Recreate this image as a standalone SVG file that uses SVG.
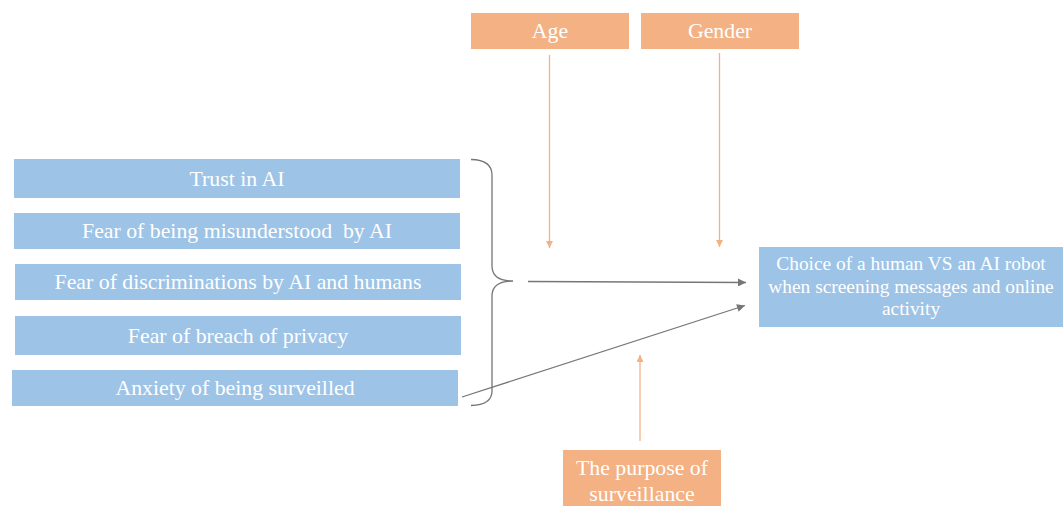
<svg xmlns="http://www.w3.org/2000/svg" width="1064" height="506" viewBox="0 0 1064 506">
<style>
.b{fill:#9DC3E6}
.o{fill:#F4B183}
.t{fill:#fff;font-family:"Liberation Serif","Times New Roman",serif;font-size:21.8px;text-anchor:middle}
.s{font-size:19.4px}
.ga{stroke:#767676;stroke-width:1.3;fill:none}
.oa{stroke:#F4B183;stroke-width:1.3;fill:none}
</style>
<defs>
<marker id="mg" viewBox="0 0 10 10" refX="10" refY="5" markerWidth="10" markerHeight="8" markerUnits="userSpaceOnUse" orient="auto"><path d="M0,0L10,5L0,10z" fill="#767676"/></marker>
<marker id="mo" viewBox="0 0 10 10" refX="10" refY="5" markerWidth="9" markerHeight="7" markerUnits="userSpaceOnUse" orient="auto"><path d="M0,0L10,5L0,10z" fill="#F4B183"/></marker>
</defs>
<g id="trust"><rect class="b" x="14" y="159" width="446" height="39"/><text class="t" x="237" y="186">Trust in AI</text></g>
<g id="misunderstood"><rect class="b" x="14" y="213" width="446" height="36"/><text class="t" x="237" y="238" xml:space="preserve">Fear of being misunderstood  by AI</text></g>
<g id="discrimination"><rect class="b" x="15" y="264" width="446" height="36"/><text class="t" x="238" y="289">Fear of discriminations by AI and humans</text></g>
<g id="privacy"><rect class="b" x="15" y="316" width="446" height="39"/><text class="t" x="238" y="343">Fear of breach of privacy</text></g>
<g id="anxiety"><rect class="b" x="12" y="370" width="446" height="36"/><text class="t" x="235" y="395">Anxiety of being surveilled</text></g>
<g id="age"><rect class="o" x="471" y="13" width="158" height="36"/><text class="t" x="550" y="38">Age</text></g>
<g id="gender"><rect class="o" x="641" y="13" width="158" height="36"/><text class="t" x="720" y="38">Gender</text></g>
<g id="choice"><rect class="b" x="759" y="247" width="304" height="80"/><text class="t s" x="911" y="270">Choice of a human VS an AI robot</text><text class="t s" x="911" y="293">when screening messages and online</text><text class="t s" x="911" y="315">activity</text></g>
<g id="purpose"><rect class="o" x="563" y="450" width="158" height="56"/><text class="t" x="642" y="475">The purpose of</text><text class="t" x="642" y="501">surveillance</text></g>
<g id="connectors">
<path class="ga" d="M471,159.5 Q492,160 492,175 L492,266 Q492,281 513,281 Q492,281 492,296 L492,391 Q492,405 471,405.5"/>
<line class="ga" x1="528" y1="281.5" x2="746" y2="282.5" marker-end="url(#mg)"/>
<line class="ga" x1="462" y1="397" x2="745" y2="305.5" marker-end="url(#mg)"/>
<line class="oa" x1="549.5" y1="55" x2="549.5" y2="248" marker-end="url(#mo)"/>
<line class="oa" x1="719.5" y1="53" x2="719.5" y2="247" marker-end="url(#mo)"/>
<line class="oa" x1="640" y1="441" x2="640" y2="355" marker-end="url(#mo)"/>
</g>
</svg>
